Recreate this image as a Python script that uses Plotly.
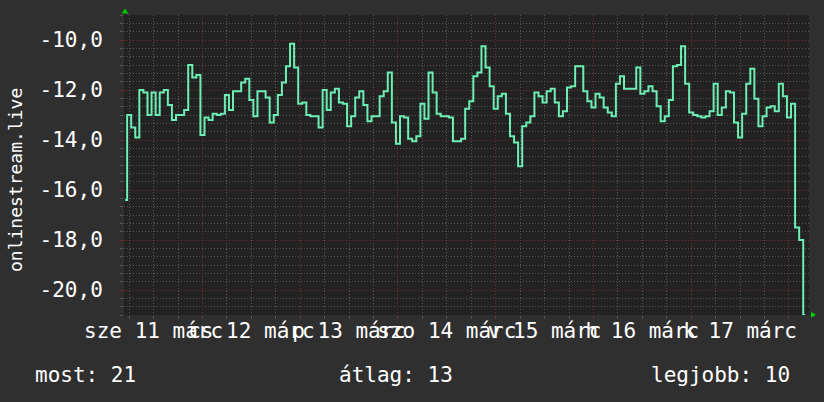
import pandas as pd
import plotly.graph_objects as go

# hourly samples
START = "2020-03-11 05:00"
MAR11 = [-16.4, -13.0, -13.5, -13.9, -12.0, -12.1, -13.0, -12.1, -13.0, -12.1,
         -12.0, -12.6, -13.2, -13.0, -13.0, -12.8, -11.0, -11.5, -11.4]
MAR12 = [-13.8, -13.1, -13.2, -12.95, -13.0, -12.95, -12.2, -12.8, -12.05, -12.05,
         -11.7, -11.55, -12.4, -13.05, -12.05, -12.05, -12.3, -13.3, -13.0, -12.2,
         -11.7, -11.05, -10.15, -11.1]
MAR13 = [-12.55, -12.5, -13.0, -13.05, -13.05, -13.5, -12.0, -12.8, -12.1, -11.95,
         -12.5, -12.55, -13.45, -13.05, -12.3, -12.05, -12.6, -13.25, -13.05, -13.05,
         -12.25, -12.05, -11.3, -13.3]
MAR14 = [-14.15, -13.05, -13.1, -13.95, -14.05, -13.85, -12.55, -13.15, -11.3, -12.1,
         -12.95, -13.05, -13.05, -13.1, -14.05, -14.05, -13.95, -12.75, -12.45, -11.45,
         -11.3, -10.25, -11.1, -11.85]
MAR15 = [-12.75, -12.25, -12.15, -12.95, -13.85, -14.1, -15.05, -13.45, -13.3, -13.05,
         -12.1, -12.25, -12.5, -12.05, -11.95, -12.5, -13.05, -12.85, -11.9, -11.85,
         -11.05, -11.05, -12.05, -12.45]
MAR16 = [-12.7, -12.15, -12.3, -12.7, -12.9, -13.05, -11.75, -11.45, -11.95, -11.95,
         -11.95, -11.1, -12.15, -12.05, -11.85, -12.05, -12.65, -13.25, -13.05, -12.4,
         -11.05, -11.0, -10.25, -11.75]
MAR17 = [-12.9, -13.0, -13.05, -13.1, -13.05, -12.85, -11.75, -13.0, -12.7, -12.05,
         -12.1, -13.3, -13.9, -12.95, -11.75, -11.15, -12.35, -13.45, -13.05, -12.7,
         -12.65, -12.85, -11.75, -12.25]
MAR18 = [-13.1, -12.55, -17.5, -18.0, -21.0]

VALUES = MAR11 + MAR12 + MAR13 + MAR14 + MAR15 + MAR16 + MAR17 + MAR18
TIMES = pd.date_range(START, periods=len(VALUES), freq="h")

X_RANGE = ["2020-03-11 04:44", "2020-03-18 04:55"]
Y_RANGE = [-21, -9]
MIDNIGHTS = pd.date_range("2020-03-12", "2020-03-18", freq="D")
NOONS = pd.date_range("2020-03-11 12:00", periods=7, freq="D")
DAY_LABELS = ["sze 11 márc", "cs 12 márc", "p 13 márc", "szo 14 márc",
              "v 15 márc", "h 16 márc", "k 17 márc"]
Y_TICKS = [-20, -18, -16, -14, -12, -10]
Y_LABELS = [f"{v:.1f}".replace(".", ",") for v in Y_TICKS]
Y_TITLE = "onlinestream.live"

BG = "#2f2f2f"
PLOT_BG = "#222222"
MAJOR = "#742c2c"
MINOR = "#575757"
LINE = "#6cefb4"
ARROW = "#00cc00"
FONT = dict(family="DejaVu Sans Mono", size=21, color="#ffffff")

fig = go.Figure()
fig.add_trace(go.Scatter(x=TIMES, y=VALUES, mode="lines",
                         line=dict(color=LINE, width=2, shape="hvh"),
                         hoverinfo="skip", showlegend=False))
# carries the day labels (centred at noon)
fig.add_trace(go.Scatter(x=TIMES, y=VALUES, xaxis="x2", mode="lines",
                         opacity=0, hoverinfo="skip", showlegend=False))

fig.update_layout(
    width=824, height=402,
    margin=dict(l=124, r=15, t=15, b=87),
    paper_bgcolor=BG, plot_bgcolor=PLOT_BG,
    font=FONT,
    xaxis=dict(
        type="date", range=X_RANGE, tickmode="array", tickvals=MIDNIGHTS,
        showticklabels=False, showgrid=True, gridcolor=MAJOR, griddash="1px,2px",
        ticks="outside", ticklen=3, tickcolor=MAJOR, zeroline=False, automargin=False,
        minor=dict(dtick=6 * 3600 * 1000, tick0="2020-03-11", showgrid=True,
                   gridcolor=MINOR, griddash="1px,2px",
                   ticks="outside", ticklen=3, tickcolor=MINOR),
    ),
    xaxis2=dict(
        type="date", range=X_RANGE, overlaying="x", anchor="y", side="bottom",
        tickmode="array", tickvals=NOONS, ticktext=DAY_LABELS, tickangle=0,
        showgrid=False, ticks="", zeroline=False, tickfont=FONT,
        ticklabelstandoff=1, automargin=False,
    ),
    yaxis=dict(
        range=Y_RANGE, tickmode="array", tickvals=Y_TICKS, ticktext=Y_LABELS,
        showgrid=True, gridcolor=MAJOR, griddash="1px,2px", zeroline=False,
        ticks="outside", ticklen=3, tickcolor=MAJOR, ticklabelstandoff=13,
        automargin=False,
        minor=dict(dtick=1 / 3, tick0=-9, showgrid=True, gridcolor=MINOR,
                   griddash="1px,2px", ticks="outside", ticklen=3, tickcolor=MINOR),
    ),
)

# vertical unit label, sits a bit below the plot's middle like rrdtool's
fig.add_annotation(text=Y_TITLE, textangle=-90, xref="paper", yref="paper",
                   x=(15 - 124) / 685, y=(315 - 180) / 300,
                   xanchor="center", yanchor="middle", showarrow=False,
                   font=dict(family="DejaVu Sans Mono", size=18, color="#ffffff"))

# RRD-style legend line under the graph
stats = [("most", abs(VALUES[-1]), 33, "left"),
         ("átlag", abs(sum(VALUES) / len(VALUES)), 337, "left"),
         ("legjobb", abs(max(VALUES)), 792, "right")]
for name, val, px, anchor in stats:
    fig.add_annotation(text=f"{name}: {val:.0f}", xref="paper", yref="paper",
                       x=(px - 124) / 685, y=-0.2, xanchor=anchor, yanchor="middle",
                       showarrow=False, font=FONT)

# axis arrows
fig.add_shape(type="path", xref="paper", yref="paper", line_width=0, fillcolor=ARROW,
              path="M -0.0036,1.005 L 0.0066,1.005 L 0.0015,1.0217 Z")
fig.add_shape(type="path", xref="paper", yref="paper", line_width=0, fillcolor=ARROW,
              path="M 1.0029,0.0107 L 1.0029,-0.0093 L 1.0102,0.0007 Z")

fig.write_html("out.html", config={"displayModeBar": False},
               post_script="document.body.style.margin='0';"
                           "document.body.style.background='" + BG + "';")
